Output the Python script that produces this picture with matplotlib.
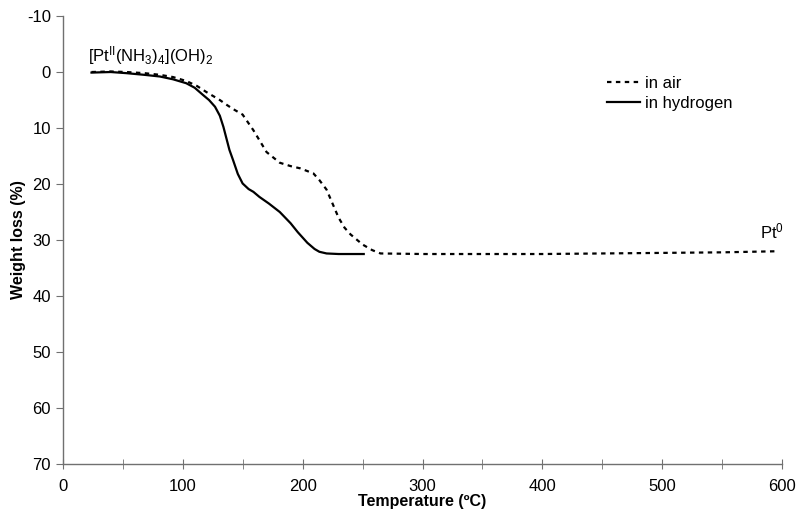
import matplotlib
matplotlib.use("Agg")
import matplotlib.pyplot as plt

plt.rcParams['font.family'] = ['Liberation Sans', 'DejaVu Sans']
plt.rcParams['mathtext.fontset'] = 'custom'
plt.rcParams['mathtext.rm'] = 'Liberation Sans'
plt.rcParams['mathtext.default'] = 'regular'
plt.rcParams['axes.unicode_minus'] = False

# TGA curves (temperature in C, weight loss in %)
t_air = [24, 40, 53, 68, 81, 92, 103, 112, 120, 131, 137, 142, 150, 159, 170, 181, 190, 198, 209, 214,
         220, 225, 230, 235, 240, 250, 258, 265, 300, 350, 400, 450, 500, 550, 597]
w_air = [0, -0.1, 0, 0.2, 0.5, 0.9, 1.6, 2.5, 3.6, 5.0, 5.9, 6.6, 7.6, 10.4, 14.3, 16.2, 16.8, 17.2, 18.1, 19.3,
         21.0, 23.5, 26.0, 27.8, 29.0, 30.8, 31.8, 32.4, 32.5, 32.5, 32.5, 32.4, 32.3, 32.2, 32.0]

t_h2 = [24, 40, 53, 68, 81, 92, 103, 110, 117, 122, 127, 131, 134, 139, 142, 146, 150, 155, 159, 164,
        172, 181, 190, 196, 204, 210, 214, 220, 230, 240, 251]
w_h2 = [0.1, 0.0, 0.2, 0.5, 0.8, 1.3, 2.0, 2.8, 4.1, 5.0, 6.2, 7.8, 9.8, 13.9, 15.7, 18.2, 19.9, 20.9, 21.4, 22.3,
        23.5, 25.0, 27.0, 28.6, 30.5, 31.6, 32.1, 32.4, 32.5, 32.5, 32.5]

labels = ['in air', 'in hydrogen']

fig = plt.figure(figsize=(8.04, 5.17), dpi=100)
ax = fig.add_axes([0.078, 0.1025, 0.895, 0.8665])

ax.plot(t_air, w_air, color='black', lw=1.6, linestyle=(0, (2.0, 2.0)), label=labels[0])
ax.plot(t_h2, w_h2, color='black', lw=1.6, linestyle='-', label=labels[1])

ax.set_xlim(0, 600)
ax.set_ylim(70, -10)
ax.set_xticks(range(0, 601, 100))
ax.set_xticks(range(50, 600, 100), minor=True)
ax.set_yticks(range(-10, 71, 10))

for s in ['top', 'right']:
    ax.spines[s].set_visible(False)
for s in ['left', 'bottom']:
    ax.spines[s].set_color('#707070')
    ax.spines[s].set_linewidth(1.0)

ax.tick_params(axis='x', which='both', direction='inout', length=7, color='#707070', labelsize=12, pad=7)
ax.tick_params(axis='y', direction='out', length=5, color='#707070', labelsize=12)

ax.set_xlabel('Temperature (ºC)', fontsize=11.5, fontweight='bold', labelpad=0)
ax.set_ylabel('Weight loss (%)', fontsize=11.5, fontweight='bold', labelpad=1)

ax.text(21, -2.9, r'[Pt$^{II}$(NH$_3$)$_4$](OH)$_2$', fontsize=12, va='center', ha='left')
ax.text(581, 28.4, r'Pt$^0$', fontsize=12, va='center', ha='left')

ax.legend(loc='upper left', bbox_to_anchor=(0.735, 0.9), frameon=False, fontsize=12,
          handlelength=2.0, handletextpad=0.3, labelspacing=0.3)

fig.savefig('out.png', dpi=100)
